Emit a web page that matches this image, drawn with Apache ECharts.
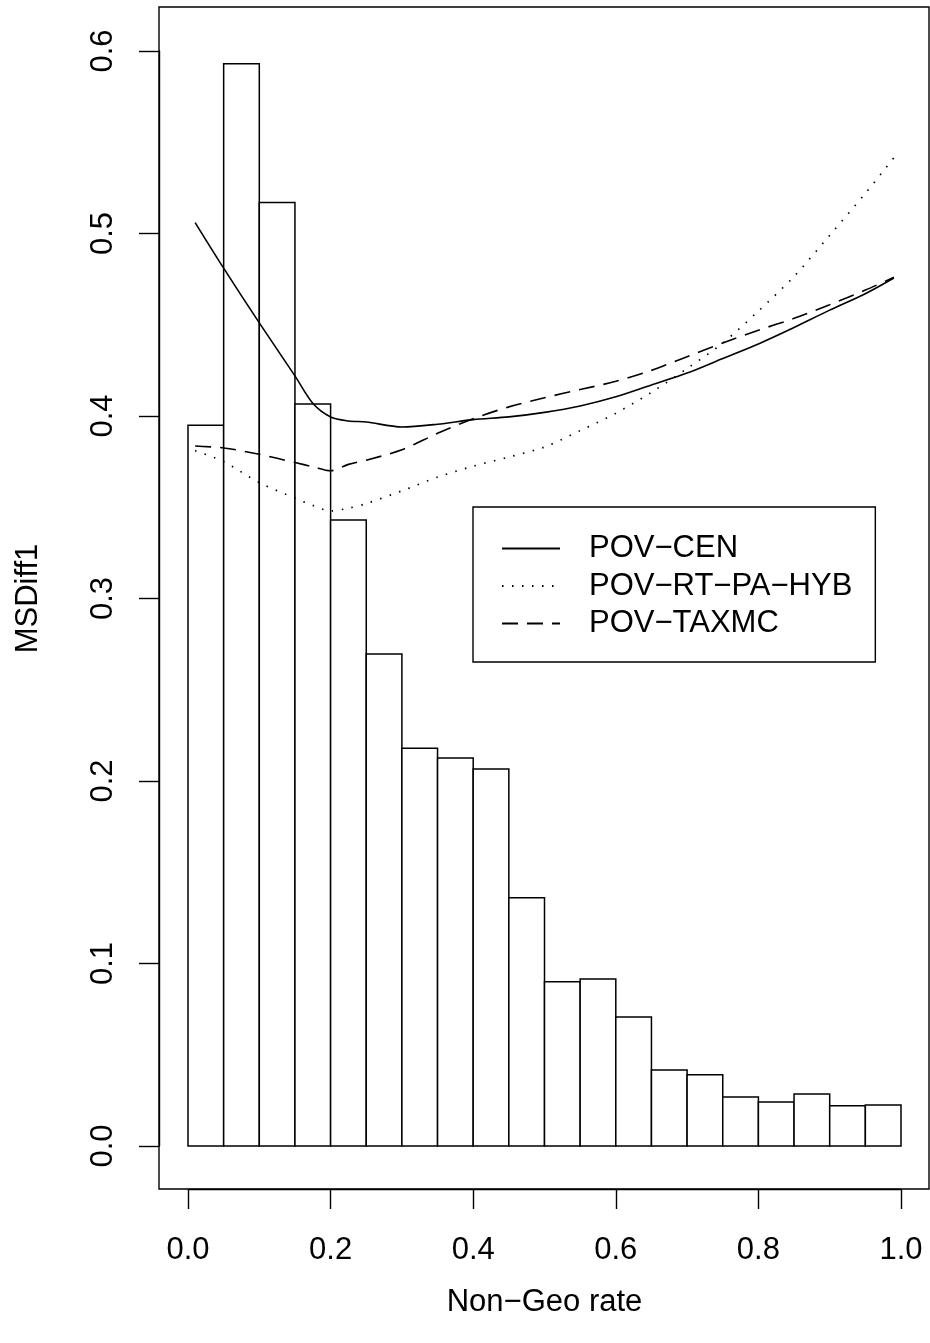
<!DOCTYPE html>
<html>
<head>
<meta charset="utf-8">
<script src="https://cdn.jsdelivr.net/npm/echarts@6/dist/echarts.min.js"></script>
<style>
  html, body { margin: 0; padding: 0; background: #fff; }
  #chart { width: 930px; height: 1343px; }
</style>
</head>
<body>
<div id="chart"></div>
<script>
// histogram bins (width 0.05) and their heights
var binLeft = [0.00, 0.05, 0.10, 0.15, 0.20, 0.25, 0.30, 0.35, 0.40, 0.45,
               0.50, 0.55, 0.60, 0.65, 0.70, 0.75, 0.80, 0.85, 0.90, 0.95];
var binWidth = 0.05;
var binHeight = [0.395, 0.593, 0.517, 0.4066, 0.343, 0.2696, 0.218, 0.2126, 0.2066, 0.136,
                 0.090, 0.0915, 0.0707, 0.0416, 0.039, 0.0268, 0.0241, 0.0285, 0.022, 0.0225];

// smoothed curves
var curveX = [0.01, 0.05, 0.10, 0.15, 0.175, 0.20, 0.225, 0.25, 0.30, 0.35, 0.40, 0.45,
              0.50, 0.55, 0.60, 0.65, 0.70, 0.75, 0.80, 0.85, 0.90, 0.95, 0.99];
var povCen = [0.506, 0.481, 0.451, 0.422, 0.407, 0.3995, 0.3973, 0.3967, 0.394, 0.3955, 0.398, 0.3995,
              0.402, 0.4055, 0.4105, 0.417, 0.4235, 0.4315, 0.4395, 0.4485, 0.458, 0.467, 0.4756];
var povHyb = [0.381, 0.375, 0.3635, 0.355, 0.351, 0.348, 0.3495, 0.352, 0.359, 0.3665, 0.3725, 0.3775,
              0.383, 0.392, 0.4015, 0.413, 0.426, 0.440, 0.4575, 0.4765, 0.499, 0.522, 0.5415];
var povTax = [0.3836, 0.3825, 0.379, 0.3745, 0.3722, 0.370, 0.3735, 0.3758, 0.3815, 0.3905, 0.3985, 0.405,
              0.410, 0.4145, 0.419, 0.425, 0.4325, 0.440, 0.447, 0.4535, 0.461, 0.469, 0.476];

var xTicks = [0, 1, 0.2];   // min, max, step
var yTicks = [0, 0.6, 0.1];

var seriesNames = ["POV\u2212CEN", "POV\u2212RT\u2212PA\u2212HYB", "POV\u2212TAXMC"];

var FONT = '"Liberation Sans", Arial, Helvetica, sans-serif';

function pairs(xs, ys) {
	var out = [];
	for (var i = 0; i < xs.length; i++) out.push([xs[i], ys[i]]);
	return out;
}

var histData = [];
for (var i = 0; i < binLeft.length; i++) {
	histData.push([binLeft[i], binLeft[i] + binWidth, binHeight[i]]);
}

var myChart = echarts.init(document.getElementById('chart'), null, { renderer: 'canvas' });

var axisCommon = {
	axisLine: { show: true, onZero: false, lineStyle: { color: '#000', width: 1.4 } },
	axisTick: { show: true, inside: false, length: 20, lineStyle: { color: '#000', width: 1.4 } },
	splitLine: { show: false },
	nameTextStyle: { color: '#000', fontSize: 31, fontFamily: FONT },
};

var option = {
	backgroundColor: '#fff',
	animation: false,
	grid: { left: 188, right: 29, top: 51, bottom: 197, containLabel: false },
	xAxis: Object.assign({}, axisCommon, {
		type: 'value',
		min: xTicks[0], max: xTicks[1], interval: xTicks[2],
		offset: 43,
		name: 'Non\u2212Geo rate', nameLocation: 'middle', nameGap: 98,
		axisLabel: { color: '#000', fontSize: 31, fontFamily: FONT, margin: 46,
			formatter: function (v) { return v.toFixed(1); } }
	}),
	yAxis: Object.assign({}, axisCommon, {
		type: 'value',
		min: yTicks[0], max: yTicks[1], interval: yTicks[2],
		offset: 29,
		name: 'MSDiff1', nameLocation: 'middle', nameGap: 115,
		axisLabel: { color: '#000', fontSize: 31, fontFamily: FONT, margin: 40, rotate: 90,
			formatter: function (v) { return v.toFixed(1); } }
	}),
	legend: {
		orient: 'vertical',
		left: 473, top: 507,
		padding: [26, 23, 23, 28],
		itemWidth: 58, itemHeight: 14, itemGap: 6.5,
		borderColor: '#000', borderWidth: 1.4, borderRadius: 0,
		backgroundColor: '#fff',
		itemStyle: { color: 'rgba(0,0,0,0)', borderWidth: 0, opacity: 0 },
		textStyle: { color: '#000', fontSize: 31, fontFamily: FONT, lineHeight: 31, padding: [0, 0, 0, 24] },
		data: seriesNames
	},
	graphic: [{
		type: 'rect', silent: true, z: 100,
		shape: { x: 159, y: 7, width: 770, height: 1182 },
		style: { fill: 'none', stroke: '#000', lineWidth: 1.4 }
	}],
	series: [
		{
			type: 'custom',
			name: 'hist',
			data: histData,
			encode: { x: [0, 1], y: 2 },
			renderItem: function (params, api) {
				var p0 = api.coord([api.value(0), api.value(2)]);
				var p1 = api.coord([api.value(1), 0]);
				return {
					type: 'rect',
					shape: { x: p0[0], y: p0[1], width: p1[0] - p0[0], height: p1[1] - p0[1] },
					style: { fill: '#fff', stroke: '#000', lineWidth: 1.5 }
				};
			},
			z: 1
		},
		{
			type: 'line', name: seriesNames[0], data: pairs(curveX, povCen),
			symbol: 'none', smooth: 0.3, z: 3,
			lineStyle: { color: '#000', width: 1.6, type: 'solid' },
			itemStyle: { color: '#000' }
		},
		{
			type: 'line', name: seriesNames[1], data: pairs(curveX, povHyb),
			symbol: 'none', smooth: 0.3, z: 3,
			lineStyle: { color: '#000', width: 1.7, type: [1.5, 8.5] },
			itemStyle: { color: '#000' }
		},
		{
			type: 'line', name: seriesNames[2], data: pairs(curveX, povTax),
			symbol: 'none', smooth: 0.3, z: 3,
			lineStyle: { color: '#000', width: 1.6, type: [16, 9] },
			itemStyle: { color: '#000' }
		}
	]
};

myChart.setOption(option);
</script>
</body>
</html>
